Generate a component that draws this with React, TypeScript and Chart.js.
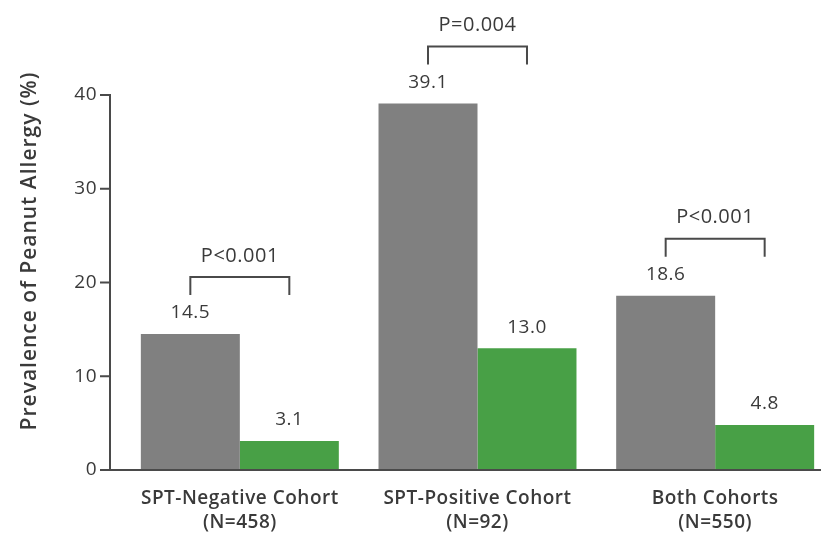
import React, { useEffect, useRef } from "react";
import { Chart, registerables } from "chart.js";

Chart.register(...registerables);

const categories: string[][] = [
  ["SPT-Negative Cohort", "(N=458)"],
  ["SPT-Positive Cohort", "(N=92)"],
  ["Both Cohorts", "(N=550)"],
];
const avoidanceValues = [14.5, 39.1, 18.6];
const consumptionValues = [3.1, 13.0, 4.8];
const pValues = ["P<0.001", "P=0.004", "P<0.001"];
const yTicks = [0, 10, 20, 30, 40];
const yTitle = "Prevalence of Peanut Allergy (%)";

const FONT = "'Open Sans', 'DejaVu Sans', sans-serif";
const GRAY = "#808080";
const GREEN = "#48a046";
const INK = "#3a3a3a";
const AXIS = "#4a4a4a";

const overlay = {
  id: "overlay",
  beforeDraw(chart: any) {
    chart.ctx.letterSpacing = "0.5px";
  },
  afterDraw(chart: any) {
    const ctx = chart.ctx;
    const y = chart.scales.y;
    const area = chart.chartArea;
    const axisX = area.left - 11;
    const baseY = y.getPixelForValue(0);
    ctx.save();
    ctx.letterSpacing = "0.5px";
    // axes
    ctx.strokeStyle = AXIS;
    ctx.lineWidth = 2;
    ctx.beginPath();
    ctx.moveTo(axisX, y.getPixelForValue(yTicks[yTicks.length - 1]) - 1);
    ctx.lineTo(axisX, baseY);
    ctx.lineTo(chart.width, baseY);
    ctx.stroke();
    ctx.beginPath();
    for (const t of yTicks) {
      const py = y.getPixelForValue(t);
      ctx.moveTo(axisX - 10, py);
      ctx.lineTo(axisX, py);
    }
    ctx.stroke();

    // value labels
    ctx.fillStyle = INK;
    ctx.font = `19px ${FONT}`;
    ctx.textAlign = "center";
    ctx.textBaseline = "middle";
    chart.data.datasets.forEach((ds: any, di: number) => {
      const meta = chart.getDatasetMeta(di);
      meta.data.forEach((bar: any, i: number) => {
        const v = ds.data[i] as number;
        ctx.fillText(v.toFixed(1), bar.x, bar.y - 21);
      });
    });

    // brackets
    const g = chart.getDatasetMeta(0).data;
    const c = chart.getDatasetMeta(1).data;
    ctx.strokeStyle = AXIS;
    ctx.lineWidth = 2;
    ctx.font = `20px ${FONT}`;
    pValues.forEach((p, i) => {
      const top = g[i].y;
      const legBottom = top - 39;
      const horiz = top - 57;
      ctx.beginPath();
      ctx.moveTo(g[i].x, legBottom);
      ctx.lineTo(g[i].x, horiz);
      ctx.lineTo(c[i].x, horiz);
      ctx.lineTo(c[i].x, legBottom);
      ctx.stroke();
      ctx.fillText(p, (g[i].x + c[i].x) / 2, top - 78);
    });

    // y title
    ctx.save();
    ctx.translate(30, 251);
    ctx.rotate(-Math.PI / 2);
    ctx.letterSpacing = "1px";
    ctx.font = `600 21px ${FONT}`;
    ctx.fillStyle = INK;
    ctx.fillText(yTitle, 0, 0);
    ctx.restore();

    ctx.restore();
  },
};

export default function App() {
  const ref = useRef<HTMLCanvasElement>(null);
  useEffect(() => {
    if (!ref.current) return;
    const chart = new Chart(ref.current, {
      type: "bar",
      data: {
        labels: categories,
        datasets: [
          {
            label: "Avoidance",
            data: avoidanceValues,
            backgroundColor: GRAY,
            categoryPercentage: 0.833,
            barPercentage: 1.0,
          },
          {
            label: "Consumption",
            data: consumptionValues,
            backgroundColor: GREEN,
            categoryPercentage: 0.833,
            barPercentage: 1.0,
          },
        ],
      },
      options: {
        responsive: false,
        animation: false,
        devicePixelRatio: 1,
        layout: { padding: { top: 95, left: 0, right: 0, bottom: 0 } },
        plugins: { legend: { display: false }, tooltip: { enabled: false } },
        scales: {
          x: {
            grid: { display: false, drawTicks: false },
            border: { display: false },
            ticks: {
              color: INK,
              font: { family: FONT, size: 19, weight: 600, lineHeight: 1.25 },
              padding: 17,
              maxRotation: 0,
              autoSkip: false,
            },
            afterFit(scale: any) {
              scale.height = 66;
            },
          },
          y: {
            min: 0,
            max: 40,
            grid: { display: false, drawTicks: false },
            border: { display: false },
            ticks: {
              stepSize: 10,
              color: INK,
              font: { family: FONT, size: 19 },
              padding: 24,
            },
            afterFit(scale: any) {
              scale.width = 121;
            },
          },
        },
      },
      plugins: [overlay],
    });
    return () => chart.destroy();
  }, []);
  return (
    <div
      style={{
        position: "fixed",
        left: 0,
        top: 0,
        width: 821,
        height: 536,
        overflow: "hidden",
        background: "#fff",
      }}
    >
      <canvas ref={ref} width={834} height={536} style={{ display: "block" }} />
    </div>
  );
}
